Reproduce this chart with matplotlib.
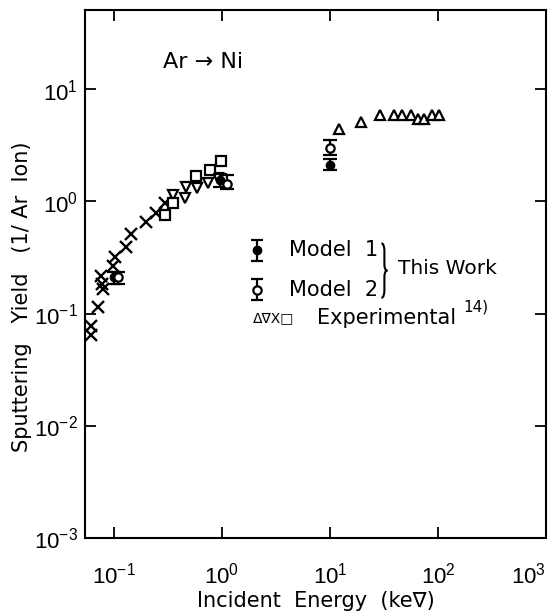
import numpy as np
import matplotlib
matplotlib.use('Agg')
import matplotlib.pyplot as plt
from matplotlib.path import Path
from matplotlib.patches import PathPatch

plt.rcParams['font.family'] = ['DejaVu Sans']
plt.rcParams['mathtext.fontset'] = 'custom'
plt.rcParams['mathtext.rm'] = 'Liberation Sans'
plt.rcParams['mathtext.it'] = 'Liberation Sans:italic'
plt.rcParams['mathtext.bf'] = 'Liberation Sans:bold'

# Experimental data (ref. 14)
x_cross = [0.061, 0.061, 0.071, 0.076, 0.078, 0.079, 0.098, 0.102, 0.129, 0.144, 0.198, 0.245, 0.297]
y_cross = [0.064, 0.078, 0.115, 0.214, 0.185, 0.164, 0.268, 0.316, 0.388, 0.51, 0.65, 0.78, 0.96]

x_tri_up = [12.1, 19.4, 29, 39, 46, 56, 65, 75, 88, 102]
y_tri_up = [4.4, 5.07, 5.86, 5.86, 5.86, 5.86, 5.4, 5.4, 5.86, 5.86]

x_tri_down = [0.352, 0.454, 0.464, 0.587, 0.74, 0.92]
y_tri_down = [1.13, 1.06, 1.33, 1.31, 1.45, 1.6]

x_square = [0.297, 0.352, 0.574, 0.774, 0.98]
y_square = [0.75, 0.96, 1.67, 1.89, 2.27]

# This work
x_model1 = [0.1, 0.95, 10]
y_model1 = [0.21, 1.55, 2.1]
lo_model1 = [0.185, 1.35, 1.9]
hi_model1 = [0.235, 1.75, 2.4]

x_model2 = [0.11, 1.12, 10]
y_model2 = [0.21, 1.42, 3.0]
lo_model2 = [0.185, 1.3, 2.6]
hi_model2 = [0.235, 1.72, 3.5]

fig = plt.figure(figsize=(5.53, 6.16), dpi=100)
ax = fig.add_axes([0.1537, 0.1266, 0.8336, 0.8572])

ax.plot(x_cross, y_cross, 'x', color='black', ms=8, mew=1.7)
ax.plot(x_tri_up, y_tri_up, '^', mfc='white', mec='black', ms=7.5, mew=1.6)
ax.plot(x_tri_down, y_tri_down, 'v', mfc='white', mec='black', ms=7.5, mew=1.6)
ax.plot(x_square, y_square, 's', mfc='white', mec='black', ms=7, mew=1.6)

y1 = np.array(y_model1)
y2 = np.array(y_model2)
ax.errorbar(x_model1, y_model1, yerr=[y1 - np.array(lo_model1), np.array(hi_model1) - y1],
            fmt='o', color='black', ms=6, capsize=5, elinewidth=1.6, capthick=1.6)
ax.errorbar(x_model2, y_model2, yerr=[y2 - np.array(lo_model2), np.array(hi_model2) - y2],
            fmt='o', mfc='white', mec='black', ecolor='black', ms=6, mew=1.6,
            capsize=5, elinewidth=1.6, capthick=1.6)

ax.set_xscale('log')
ax.set_yscale('log')
ax.set_xlim(0.054, 1000)
ax.set_ylim(1e-3, 50.7)

xt = [0.1, 1, 10, 100, 1000]
yt = [1e-3, 1e-2, 1e-1, 1, 10]
ax.set_xticks(xt)
ax.set_xticklabels([r'$10^{-1}$', r'$10^{0}$', r'$10^{1}$', r'$10^{2}$', r'$10^{3}$'])
ax.set_yticks(yt)
ax.set_yticklabels([r'$10^{-3}$', r'$10^{-2}$', r'$10^{-1}$', r'$10^{0}$', r'$10^{1}$'])
ax.minorticks_off()
ax.tick_params(direction='in', length=8, width=1.3, top=True, right=True, labelsize=16)
ax.tick_params(axis='x', pad=17)
ax.tick_params(axis='y', pad=5)
ax.get_xticklabels()[-1].set_horizontalalignment('right')
for s in ax.spines.values():
    s.set_linewidth(1.5)

ax.set_xlabel('Incident  Energy  (ke∇)', fontsize=15)
ax.xaxis.set_label_coords(0.50, -0.10)
ax.set_ylabel('Sputtering   Yield   (1/ Ar  Ion)', fontsize=15)
ax.yaxis.set_label_coords(-0.115, 0.456)

ax.text(0.169, 0.9015, 'Ar → Ni', transform=ax.transAxes, fontsize=16, va='center')

# legend drawn by hand
ax.errorbar([0.373], [0.545], yerr=[[0.02], [0.02]], fmt='o', color='black', ms=6,
            capsize=4, elinewidth=1.6, capthick=1.6, transform=ax.transAxes, clip_on=False)
ax.errorbar([0.373], [0.470], yerr=[[0.02], [0.02]], fmt='o', mfc='white', mec='black',
            ecolor='black', ms=6, mew=1.6, capsize=4, elinewidth=1.6, capthick=1.6,
            transform=ax.transAxes, clip_on=False)
ax.text(0.4425, 0.545, 'Model  1', transform=ax.transAxes, fontsize=15, va='center')
ax.text(0.4425, 0.470, 'Model  2', transform=ax.transAxes, fontsize=15, va='center')

# brace grouping the two models
bx, bw, btop, bbot = 0.643, 0.013, 0.558, 0.455
bmid = (btop + bbot) / 2
verts = [(bx, btop), (bx + bw / 2, btop), (bx + bw / 2, btop - 0.015),
         (bx + bw / 2, bmid + 0.012), (bx + bw / 2, bmid), (bx + bw, bmid),
         (bx + bw / 2, bmid), (bx + bw / 2, bmid - 0.012),
         (bx + bw / 2, bbot + 0.015), (bx + bw / 2, bbot), (bx, bbot)]
codes = [Path.MOVETO, Path.CURVE3, Path.CURVE3, Path.LINETO, Path.CURVE3, Path.CURVE3,
         Path.CURVE3, Path.CURVE3, Path.LINETO, Path.CURVE3, Path.CURVE3]
ax.add_patch(PathPatch(Path(verts, codes), fill=False, lw=1.5, edgecolor='black',
                       transform=ax.transAxes, clip_on=False))

ax.text(0.679, 0.511, 'This Work', transform=ax.transAxes, fontsize=14.5, va='center')
ax.text(0.364, 0.4167, 'Δ∇X□', transform=ax.transAxes, fontsize=10, va='center')
ax.text(0.503, 0.4167, 'Experimental', transform=ax.transAxes, fontsize=15, va='center')
ax.text(0.82, 0.438, '14)', transform=ax.transAxes, fontsize=11, va='center')

fig.savefig('out.png', dpi=100)
